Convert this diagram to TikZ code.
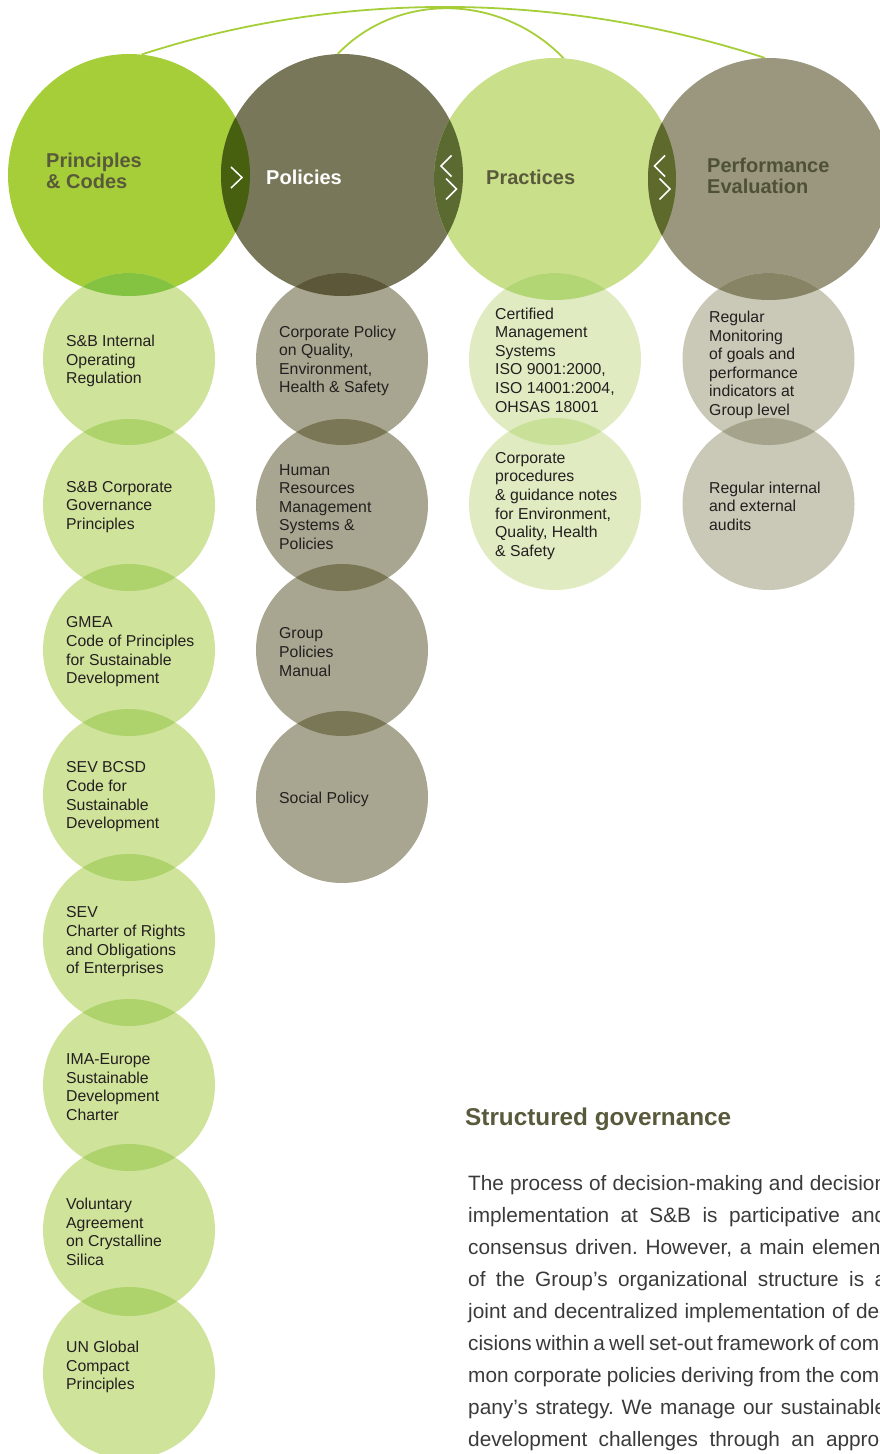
\documentclass[tikz,border=0pt]{standalone}
\usepackage{fontspec}
\setmainfont{Liberation Sans}
\usetikzlibrary{positioning}

\definecolor{pcbig}{HTML}{A6CE39}
\definecolor{polbig}{HTML}{787759}
\definecolor{prabig}{HTML}{C9DF8A}
\definecolor{perbig}{HTML}{9A977E}
\definecolor{pcsoft}{HTML}{D0E39B}
\definecolor{polsoft}{HTML}{A8A690}
\definecolor{prasoft}{HTML}{E0EBC2}
\definecolor{persoft}{HTML}{CAC8B6}
\definecolor{pclens}{HTML}{AED36C}
\definecolor{pollens}{HTML}{7A7756}
\definecolor{pralens}{HTML}{C9E099}
\definecolor{perlens}{HTML}{A6A38C}
\definecolor{pcmix}{HTML}{84C341}
\definecolor{polmix}{HTML}{5B5738}
\definecolor{pramix}{HTML}{B3D675}
\definecolor{permix}{HTML}{878466}
\definecolor{lensa}{HTML}{46600F}
\definecolor{lensb}{HTML}{5B6A31}
\definecolor{lensc}{HTML}{5E6A2B}
\definecolor{headtxt}{HTML}{585A3B}
\definecolor{itemtxt}{HTML}{231F20}
\definecolor{bodytxt}{HTML}{3A3A3A}

\begin{document}
\begin{tikzpicture}[x=1pt,y=1pt,
    big/.style={circle,minimum size=242pt,inner sep=0pt},
    small/.style={circle,minimum size=172pt,inner sep=0pt},
    head/.style={anchor=west,align=left,inner sep=0pt,font=\bfseries\fontsize{20}{21}\selectfont},
    item/.style={anchor=west,align=left,inner sep=0pt,yshift=-2pt,text=itemtxt,font=\fontsize{15.8}{18.6}\selectfont},
    body/.style={anchor=base west,inner sep=0pt,text=bodytxt,font=\frenchspacing\fontsize{20.8}{32}\selectfont},
    chev/.style={draw=white,line width=1.5pt},
    link/.style={draw=pcbig,line width=1.8pt}]
  \useasboundingbox (0,0) rectangle (880,-1454);
  \clip (0,0) rectangle (880,-1454);

  % main circles
  \node[big,fill=pcbig] (pc) at (129,-175) {};
  \node[big,fill=polbig] (pol) at (342,-175) {};
  \node[big,fill=prabig] (pra) at (555,-179) {};
  \node[big,fill=perbig] (per) at (769,-179) {};

  % columns
  \foreach \y [count=\i] in {359,505,650,795,940,1085,1230,1373}
    \node[small,fill=pcsoft] (pc\i) at (129,-\y) {};
  \foreach \y [count=\i] in {359,505,650,797}
    \node[small,fill=polsoft] (pol\i) at (342,-\y) {};
  \foreach \y [count=\i] in {359,504}
    \node[small,fill=prasoft] (pra\i) at (555,-\y) {};
  \foreach \y [count=\i] in {359,504}
    \node[small,fill=persoft] (per\i) at (768.5,-\y) {};

  % overlaps
  \foreach \a/\ra/\b/\rb/\c in {pc/121/pol/121/lensa, pol/121/pra/121/lensb,
      pra/121/per/121/lensc, pc/121/pc1/86/pcmix, pol/121/pol1/86/polmix,
      pra/121/pra1/86/pramix, per/121/per1/86/permix,
      pc1/86/pc2/86/pclens, pc2/86/pc3/86/pclens, pc3/86/pc4/86/pclens,
      pc4/86/pc5/86/pclens, pc5/86/pc6/86/pclens, pc6/86/pc7/86/pclens,
      pc7/86/pc8/86/pclens, pol1/86/pol2/86/pollens, pol2/86/pol3/86/pollens,
      pol3/86/pol4/86/pollens, pra1/86/pra2/86/pralens, per1/86/per2/86/perlens}
  {
    \begin{scope}
      \clip (\a.center) circle (\ra);
      \fill[\c] (\b.center) circle (\rb);
    \end{scope}
  }

  % arrows in the lenses
  \draw[chev] (231,-167) -- ++(11,-10.5) -- ++(-11,-10.5);
  \draw[chev] (451.5,-155.5) -- ++(-10.5,-10.5) -- ++(10.5,-10.5);
  \draw[chev] (446,-178.5) -- ++(10.5,-10.5) -- ++(-10.5,-10.5);
  \draw[chev] (665,-155.5) -- ++(-10.5,-10.5) -- ++(10.5,-10.5);
  \draw[chev] (659.5,-178.5) -- ++(10.5,-10.5) -- ++(-10.5,-10.5);

  % links on top
  \draw[link] (pc.84) to[out=18,in=162,looseness=0.87] (per.92);
  \draw[link] (pol.92) to[out=46,in=134] (pra.86);

  % headings
  \node[head,text=headtxt] (pc-t) at ([xshift=-83pt,yshift=4.5pt]pc.center) {Principles\\\& Codes};
  \node[head,text=white] (pol-t) at ([xshift=-76pt,yshift=-2pt]pol.center) {Policies};
  \node[head,text=headtxt] (pra-t) at ([xshift=-69pt,yshift=2pt]pra.center) {Practices};
  \node[head,text=headtxt!90!black] (per-t) at ([xshift=-62pt,yshift=3.5pt]per.center) {Performance\\Evaluation};

  % column texts
  \node[item] (pc1-t) at ([xshift=-63pt]pc1.center) {S\&B Internal\\Operating\\Regulation};
  \node[item] (pc2-t) at ([xshift=-63pt]pc2.center) {S\&B Corporate\\Governance\\Principles};
  \node[item] (pc3-t) at ([xshift=-63pt]pc3.center) {GMEA\\Code of Principles\\for Sustainable\\Development};
  \node[item] (pc4-t) at ([xshift=-63pt]pc4.center) {SEV BCSD\\Code for\\Sustainable\\Development};
  \node[item] (pc5-t) at ([xshift=-63pt]pc5.center) {SEV\\Charter of Rights\\and Obligations\\of Enterprises};
  \node[item] (pc6-t) at ([xshift=-63pt]pc6.center) {IMA-Europe\\Sustainable\\Development\\Charter};
  \node[item] (pc7-t) at ([xshift=-63pt]pc7.center) {Voluntary\\Agreement\\on Crystalline\\Silica};
  \node[item] (pc8-t) at ([xshift=-63pt,yshift=8pt]pc8.center) {UN Global\\Compact\\Principles};

  \node[item] (pol1-t) at ([xshift=-63pt]pol1.center) {Corporate Policy\\on Quality,\\Environment,\\Health \& Safety};
  \node[item] (pol2-t) at ([xshift=-63pt]pol2.center) {Human\\Resources\\Management\\Systems \&\\Policies};
  \node[item] (pol3-t) at ([xshift=-63pt]pol3.center) {Group\\Policies\\Manual};
  \node[item] (pol4-t) at ([xshift=-63pt]pol4.center) {Social Policy};

  \node[item] (pra1-t) at ([xshift=-60pt,yshift=1pt]pra1.center) {Certified\\Management\\Systems\\ISO 9001:2000,\\ISO 14001:2004,\\OHSAS 18001};
  \node[item] (pra2-t) at ([xshift=-60pt]pra2.center) {Corporate\\procedures\\\& guidance notes\\for Environment,\\Quality, Health\\\& Safety};

  \node[item] (per1-t) at ([xshift=-59.5pt,yshift=-4pt]per1.center) {Regular\\Monitoring\\of goals and\\performance\\indicators at\\Group level};
  \node[item] (per2-t) at ([xshift=-59.5pt]per2.center) {Regular internal\\and external\\audits};

  % text block
  \node[anchor=base west,inner sep=0pt,text=headtxt,font=\bfseries\fontsize{24.3}{26}\selectfont] (sg) at (465,-1125) {Structured governance};
  \foreach \t [count=\i] in {The process of decision-making and decision,
      implementation at S\&B is participative and,
      {consensus driven. However, a main element},
      of the Group’s organizational structure is a,
      joint and decentralized implementation of de-,
      cisions within a well set-out framework of com-,
      mon corporate policies deriving from the com-,
      pany’s strategy. We manage our sustainable,
      development challenges through an appro-}
    \node[body] (line\i) at (468,{-1190-32*(\i-1)}) {\hbox to 418pt{\t}};
\end{tikzpicture}
\end{document}
